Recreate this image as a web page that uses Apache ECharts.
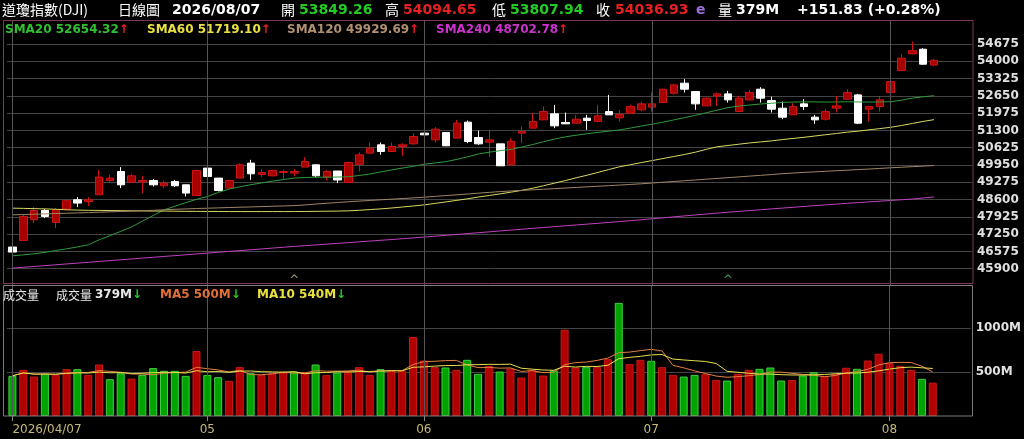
<!DOCTYPE html>
<html>
<head>
<meta charset="utf-8">
<script src="https://cdn.jsdelivr.net/npm/echarts@6/dist/echarts.min.js"></script>
<style>
html, body { margin: 0; padding: 0; background: #000; }
#chart { width: 1024px; height: 439px; }
</style>
</head>
<body>
<div id="chart"></div>
<script>
// 交易日 (2026/04/07 ~ 2026/08/07)
var monthNames = ['04', '05', '06', '07', '08'];
var tradingDays = [
    [7, 8, 9, 10, 13, 14, 15, 16, 17, 20, 21, 22, 23, 24, 27, 28, 29, 30],
    [1, 4, 5, 6, 7, 8, 11, 12, 13, 14, 15, 18, 19, 20, 21, 22, 26, 27, 28, 29],
    [1, 2, 3, 4, 5, 8, 9, 10, 11, 12, 15, 16, 17, 18, 22, 23, 24, 25, 26, 29, 30],
    [1, 2, 6, 7, 8, 9, 10, 13, 14, 15, 16, 17, 20, 21, 22, 23, 24, 27, 28, 29, 30, 31],
    [3, 4, 5, 6, 7]
];

// K線 [開, 收, 低, 高]
var candles = [
    [46746, 46551, 46185, 46746], [47004, 47940, 47004, 48006], [47811, 48174, 47682, 48306],
    [48174, 47940, 47877, 48228], [47706, 48201, 47487, 48267], [48228, 48552, 48174, 48591],
    [48591, 48462, 48306, 48696], [48525, 48591, 48357, 48696], [48786, 49476, 48786, 49761],
    [49344, 49437, 49242, 49566], [49695, 49176, 49047, 49866], [49281, 49527, 49281, 49605],
    [49293, 49344, 48852, 49527], [49344, 49176, 49110, 49398], [49137, 49242, 49047, 49344],
    [49305, 49137, 49086, 49371], [49176, 48852, 48720, 49176], [48759, 49734, 48759, 49761],
    [49827, 49500, 49500, 50022], [49437, 48954, 48915, 49437], [49047, 49344, 49047, 49371],
    [49437, 49956, 49437, 50022], [50022, 49605, 49371, 50151], [49578, 49656, 49476, 49788],
    [49527, 49734, 49500, 49761], [49656, 49695, 49371, 49761], [49632, 49695, 49500, 49788],
    [49866, 50085, 49866, 50256], [49956, 49527, 49476, 49956], [49476, 49695, 49344, 49761],
    [49714, 49363, 49242, 49714], [49266, 50046, 49242, 50073], [49975, 50346, 49695, 50436],
    [50412, 50607, 50412, 50826], [50736, 50475, 50346, 50826], [50475, 50670, 50475, 50826],
    [50670, 50736, 50307, 50802], [50775, 51060, 50736, 51192], [51192, 51126, 50775, 51192],
    [50931, 51348, 50826, 51426], [51216, 50697, 50697, 51216], [50997, 51582, 50997, 51711],
    [51621, 50865, 50802, 51684], [51021, 50775, 50736, 51294], [50841, 50931, 50268, 51321],
    [50775, 49917, 49917, 50775], [49956, 50871, 49956, 50997], [51192, 51255, 50802, 51450],
    [51387, 51645, 51387, 51972], [51711, 52035, 51711, 52230], [51945, 51477, 51387, 52296],
    [51606, 51555, 51555, 51996], [51582, 51738, 51582, 51906], [51777, 51684, 51321, 51906],
    [51645, 51867, 51645, 52296], [52035, 51906, 51906, 52686], [51789, 51925, 51645, 52101],
    [51972, 52230, 51972, 52296], [52101, 52335, 52035, 52425], [52206, 52335, 52035, 52776],
    [52386, 52908, 52386, 52908], [52752, 53076, 52686, 53115], [53142, 52908, 52776, 53298],
    [52815, 52335, 52101, 52815], [52257, 52557, 52257, 52581], [52647, 52725, 52257, 52776],
    [52725, 52491, 52386, 52842], [52035, 52557, 52035, 52647], [52491, 52776, 52464, 52881],
    [52908, 52557, 52386, 52986], [52464, 52128, 51996, 52620], [52167, 51816, 51738, 52425],
    [51906, 52230, 51906, 52362], [52335, 52230, 52101, 52518], [51816, 51711, 51555, 51906],
    [51738, 52035, 51684, 52128], [52167, 52257, 51996, 52647], [52518, 52776, 52491, 52908],
    [52686, 51582, 51543, 52725], [52128, 52230, 51645, 52257], [52230, 52491, 52035, 52647],
    [52776, 53205, 52776, 53271], [53634, 54117, 53634, 54285], [54285, 54414, 54285, 54765],
    [54468, 53885.10, 53856, 54507], [53849.26, 54036.93, 53807.94, 54094.65]
];

// 成交量 (M)
var volumes = [
    456, 524, 448, 479, 464, 532, 532, 467, 585, 418, 486, 425, 467, 544, 513, 513, 456, 738, 467, 441,
    399, 555, 486, 464, 486, 494, 505, 498, 585, 464, 494, 513, 555, 467, 532, 513, 513, 897, 630, 555,
    551, 524, 638, 479, 570, 505, 539, 437, 524, 460, 517, 980, 551, 555, 555, 646, 1285, 589, 638, 627,
    555, 467, 448, 467, 475, 410, 403, 479, 524, 536, 551, 403, 410, 460, 498, 456, 479, 548, 536, 630,
    707, 605, 570, 524, 422, 379
];
// 1 = 紅 (漲), 0 = 綠 (跌)
var volDir = [
    0, 1, 1, 0, 1, 1, 0, 1, 1, 0, 0, 1, 0, 0, 0, 0, 0, 1, 0, 0,
    1, 1, 0, 1, 1, 1, 0, 1, 0, 1, 0, 1, 1, 1, 0, 1, 1, 1, 1, 1,
    0, 1, 0, 0, 1, 0, 1, 1, 1, 1, 0, 1, 1, 0, 1, 1, 0, 1, 1, 0,
    1, 1, 0, 0, 1, 1, 0, 1, 1, 0, 0, 0, 1, 0, 0, 1, 1, 1, 0, 1,
    1, 1, 1, 1, 0, 1
];

var sma20 = [
    46403, 46440, 46481, 46540, 46610, 46676, 46750, 46832, 47030, 47190,
    47360, 47534, 47760, 47980, 48200, 48340, 48480, 48610, 48720, 48880,
    49010, 49100, 49180, 49250, 49320, 49380, 49440, 49460, 49470, 49475,
    49480, 49490, 49540, 49600, 49680, 49760, 49830, 49900, 49980, 50030,
    50080, 50170, 50270, 50380, 50450, 50510, 50560, 50650, 50750, 50860,
    50960, 51050, 51110, 51170, 51220, 51270, 51320, 51390, 51470, 51540,
    51620, 51710, 51800, 51890, 51990, 52090, 52190, 52250, 52290, 52330,
    52360, 52390, 52405, 52415, 52410, 52405, 52410, 52415, 52410, 52405,
    52410, 52420, 52480, 52560, 52610, 52654.32
];
var sma60 = [
    48264, 48255, 48245, 48235, 48220, 48200, 48190, 48180, 48175, 48170,
    48165, 48160, 48155, 48150, 48150, 48145, 48140, 48140, 48135, 48135,
    48130, 48130, 48130, 48130, 48130, 48130, 48131, 48135, 48140, 48145,
    48150, 48159, 48180, 48210, 48237, 48270, 48310, 48350, 48393, 48450,
    48510, 48570, 48630, 48700, 48760, 48822, 48890, 48960, 49044, 49140,
    49240, 49340, 49450, 49550, 49660, 49770, 49880, 49960, 50043, 50120,
    50200, 50280, 50360, 50450, 50560, 50660, 50710, 50760, 50810, 50850,
    50890, 50940, 50985, 51030, 51080, 51130, 51180, 51230, 51270, 51320,
    51370, 51420, 51490, 51570, 51650, 51719.10
];
var sma120 = [
    48003, 48015, 48027, 48040, 48052, 48065, 48078, 48090, 48105, 48120,
    48135, 48150, 48165, 48180, 48200, 48220, 48235, 48250, 48262, 48275,
    48288, 48300, 48312, 48325, 48338, 48350, 48363, 48390, 48425, 48455,
    48485, 48515, 48540, 48565, 48590, 48615, 48640, 48665, 48693, 48725,
    48755, 48785, 48815, 48850, 48880, 48912, 48935, 48958, 48980, 49003,
    49026, 49050, 49073, 49096, 49119, 49142, 49165, 49190, 49215, 49245,
    49275, 49305, 49335, 49365, 49395, 49425, 49455, 49485, 49515, 49545,
    49575, 49610, 49635, 49660, 49680, 49705, 49725, 49745, 49770, 49790,
    49815, 49840, 49860, 49885, 49905, 49929.69
];
var sma240 = [
    45923, 45955, 45988, 46020, 46053, 46086, 46118, 46150, 46183, 46216,
    46248, 46281, 46314, 46346, 46379, 46411, 46444, 46477, 46509, 46542,
    46575, 46607, 46640, 46672, 46705, 46738, 46770, 46800, 46830, 46860,
    46890, 46920, 46950, 46980, 47010, 47040, 47072, 47104, 47136, 47170,
    47204, 47238, 47272, 47306, 47340, 47374, 47408, 47442, 47476, 47509,
    47542, 47575, 47608, 47640, 47673, 47706, 47740, 47775, 47810, 47848,
    47886, 47924, 47962, 48000, 48035, 48070, 48105, 48138, 48170, 48202,
    48234, 48266, 48298, 48330, 48362, 48392, 48422, 48452, 48480, 48508,
    48536, 48564, 48592, 48620, 48660, 48702.78
];

// 底部 ^ 標記 (K線序號, 顏色)
var caretIdx = [26, 66];
var caretColor = ['#a89878', '#4ea05a'];

// 類別軸: 日期 + 右側留白
var categories = [];
var monthStart = [];
tradingDays.forEach(function (days, m) {
    monthStart.push(categories.length);
    days.forEach(function (d) {
        categories.push('2026/' + monthNames[m] + '/' + (d < 10 ? '0' + d : d));
    });
});
var padSlots = 3;
for (var p = 1; p <= padSlots; p++) {
    categories.push(new Array(p + 1).join(' '));
}

function movingAvg(arr, n) {
    return arr.map(function (v, i) {
        var s = arr.slice(Math.max(0, i - n + 1), i + 1);
        return s.reduce(function (a, b) { return a + b; }, 0) / s.length;
    });
}
var volMa5 = movingAvg(volumes, 5);
var volMa10 = movingAvg(volumes, 10);

var last = candles.length - 1;
var lastK = candles[last];
var prevClose = candles[last - 1][1];
var change = lastK[1] - prevClose;

var UP = '#e82020', DOWN = '#22cc22';
var numFont = 'bold 14px "DejaVu Sans"';
var cjkFont = '14px "Noto Sans CJK TC"';
var smallBold = 'bold 12px "DejaVu Sans"';
var smallCjk = '12px "Noto Sans CJK TC"';

function txt(x, y, text, fill, font) {
    return {
        type: 'text', x: x, y: y, silent: true, z: 200,
        style: { text: text, fill: fill, font: font, verticalAlign: 'middle', textVerticalAlign: 'middle' }
    };
}
function arrowOf(arr) {
    return arr[arr.length - 1] >= arr[arr.length - 2] ? '↑' : '↓';
}
function legendItem(x, y, label, value, color, arr) {
    var a = arrowOf(arr);
    return {
        type: 'text', x: x, y: y, silent: true, z: 200,
        style: {
            text: '{t|' + (label ? label + ' ' : '') + value + '}{a|' + a + '}',
            verticalAlign: 'middle', textVerticalAlign: 'middle',
            rich: {
                t: { fill: color, font: smallBold },
                a: { fill: a === '↑' ? UP : DOWN, font: smallBold }
            }
        }
    };
}
function colorVsPrev(v) { return v >= prevClose ? UP : DOWN; }

var monthLines = {
    silent: true,
    symbol: ['none', 'none'],
    label: { show: false },
    lineStyle: { color: '#555', type: 'solid', width: 1 },
    data: monthStart.map(function (i) { return { xAxis: categories[i] }; }),
    animation: false
};

var chart = echarts.init(document.getElementById('chart'));

var option = {
    backgroundColor: '#000',
    animation: false,
    grid: [
        { left: 7, right: 52, top: 21, height: 265 },
        { left: 7, right: 52, top: 285, height: 131 }
    ],
    xAxis: [
        {
            type: 'category', gridIndex: 0, data: categories, boundaryGap: true,
            axisLine: { show: false }, axisTick: { show: false },
            axisLabel: { show: false }, splitLine: { show: false }
        },
        {
            type: 'category', gridIndex: 1, data: categories, boundaryGap: true,
            axisLine: { show: false },
            axisTick: {
                show: true, alignWithLabel: true, length: 5,
                lineStyle: { color: '#888' },
                interval: function (idx) { return monthStart.indexOf(idx) >= 0; }
            },
            axisLabel: {
                color: '#c8b878', fontSize: 12, fontFamily: 'DejaVu Sans', margin: 8,
                alignMinLabel: 'left',
                interval: function (idx) { return monthStart.indexOf(idx) >= 0; },
                formatter: function (val, idx) {
                    return idx === 0 ? val : val.slice(5, 7);
                }
            },
            splitLine: { show: false }
        }
    ],
    yAxis: [
        {
            type: 'value', gridIndex: 0, position: 'right', scale: true,
            min: 45225, max: 55570, interval: 675,
            axisLine: { show: false }, axisTick: { show: false },
            axisLabel: {
                color: '#e0e0e0', fontWeight: 'bold', fontSize: 12,
                fontFamily: 'DejaVu Sans', margin: 5,
                showMinLabel: false, showMaxLabel: false,
                formatter: function (v) { return (v >= 45900 && v <= 54675) ? String(v) : ''; }
            },
            splitLine: {
                lineStyle: {
                    width: 1,
                    color: ['rgba(0,0,0,0)', '#444', '#444', '#444', '#444', '#444', '#444', '#444',
                        '#444', '#444', '#444', '#444', '#444', '#444', '#444',
                        'rgba(0,0,0,0)', 'rgba(0,0,0,0)']
                }
            }
        },
        {
            type: 'value', gridIndex: 1, position: 'right',
            min: 0, max: 1488, interval: 500,
            axisLine: { show: false }, axisTick: { show: false },
            axisLabel: {
                color: '#e0e0e0', fontWeight: 'bold', fontSize: 12, fontFamily: 'DejaVu Sans', margin: 5,
                showMinLabel: false, showMaxLabel: false,
                formatter: function (v) { return (v === 500 || v === 1000) ? v + 'M' : ''; }
            },
            splitLine: {
                lineStyle: { width: 1, color: ['rgba(0,0,0,0)', '#444', '#444', 'rgba(0,0,0,0)'] }
            }
        }
    ],
    series: [
        {
            type: 'candlestick', xAxisIndex: 0, yAxisIndex: 0,
            data: candles,
            barWidth: '74%',
            itemStyle: {
                color: '#a60000', color0: '#ffffff',
                borderColor: '#d01414', borderColor0: '#ffffff', borderWidth: 1
            },
            markLine: monthLines,
            markPoint: {
                silent: true,
                animation: false,
                data: caretIdx.map(function (i, k) {
                    return {
                        coord: [categories[i], 45430],
                        symbol: 'circle',
                        symbolSize: 2,
                        itemStyle: { color: 'rgba(0,0,0,0)' },
                        label: {
                            show: true, position: 'inside', formatter: '^', color: caretColor[k],
                            fontSize: 12, fontFamily: 'DejaVu Sans'
                        }
                    };
                })
            }
        },
        {
            type: 'line', name: 'SMA20', data: sma20, showSymbol: false, symbol: 'none',
            lineStyle: { color: '#2f9a3a', width: 1 }
        },
        {
            type: 'line', name: 'SMA60', data: sma60, showSymbol: false, symbol: 'none',
            lineStyle: { color: '#d8d860', width: 1 }
        },
        {
            type: 'line', name: 'SMA120', data: sma120, showSymbol: false, symbol: 'none',
            lineStyle: { color: '#a08466', width: 1 }
        },
        {
            type: 'line', name: 'SMA240', data: sma240, showSymbol: false, symbol: 'none',
            lineStyle: { color: '#c040c0', width: 1 }
        },
        {
            type: 'bar', xAxisIndex: 1, yAxisIndex: 1,
            barWidth: '74%',
            data: volumes.map(function (v, i) {
                var up = volDir[i] === 1;
                return {
                    value: v,
                    itemStyle: {
                        color: up ? '#b00000' : '#00a400',
                        borderColor: up ? '#c81818' : '#44cc44',
                        borderWidth: 1
                    }
                };
            }),
            markLine: monthLines
        },
        {
            type: 'line', xAxisIndex: 1, yAxisIndex: 1, data: volMa5,
            showSymbol: false, symbol: 'none', lineStyle: { color: '#e08040', width: 1 }
        },
        {
            type: 'line', xAxisIndex: 1, yAxisIndex: 1, data: volMa10,
            showSymbol: false, symbol: 'none', lineStyle: { color: '#e8e050', width: 1 }
        }
    ],
    graphic: [
        // 面板外框
        {
            type: 'rect', silent: true, z: 150,
            shape: { x: 3.5, y: 20.5, width: 969.5, height: 263 },
            style: { fill: null, stroke: '#7a3a5c', lineWidth: 1 }
        },
        {
            type: 'rect', silent: true, z: 150,
            shape: { x: 3.5, y: 285.5, width: 969, height: 130.5 },
            style: { fill: null, stroke: '#7c7c7c', lineWidth: 1 }
        },
        // 標題列
        txt(2, 10, '道瓊指數(DJI)', '#ffffff', cjkFont),
        txt(118, 10, '日線圖', '#ffffff', cjkFont),
        txt(172, 10, categories[last], '#ffffff', numFont),
        txt(281, 10, '開', '#ffffff', cjkFont),
        txt(299, 10, lastK[0].toFixed(2), colorVsPrev(lastK[0]), numFont),
        txt(385, 10, '高', '#ffffff', cjkFont),
        txt(403, 10, lastK[3].toFixed(2), colorVsPrev(lastK[3]), numFont),
        txt(492, 10, '低', '#ffffff', cjkFont),
        txt(510, 10, lastK[2].toFixed(2), colorVsPrev(lastK[2]), numFont),
        txt(596, 10, '收', '#ffffff', cjkFont),
        txt(615, 10, lastK[1].toFixed(2), colorVsPrev(lastK[1]), numFont),
        txt(696, 10, 'e', '#9a70d8', numFont),
        txt(718, 10, '量', '#ffffff', cjkFont),
        txt(736, 10, volumes[last] + 'M', '#ffffff', numFont),
        txt(797, 10, (change >= 0 ? '+' : '') + change.toFixed(2) + ' (' + (change >= 0 ? '+' : '') +
            (change / prevClose * 100).toFixed(2) + '%)', '#ffffff', numFont),
        // 均線圖例
        legendItem(5, 30, 'SMA20', sma20[last].toFixed(2), '#30c030', sma20),
        legendItem(147, 30, 'SMA60', sma60[last].toFixed(2), '#e8e040', sma60),
        legendItem(287, 30, 'SMA120', sma120[last].toFixed(2), '#b09070', sma120),
        legendItem(436, 30, 'SMA240', sma240[last].toFixed(2), '#cc33cc', sma240),
        // 成交量圖例
        txt(3, 295, '成交量', '#e8e8e8', smallCjk),
        txt(56, 295, '成交量', '#e8e8e8', smallCjk),
        legendItem(95, 295, '', volumes[last] + 'M', '#e8e8e8', volumes),
        legendItem(160, 295, 'MA5', Math.round(volMa5[last]) + 'M', '#e07038', volMa5),
        legendItem(257, 295, 'MA10', Math.round(volMa10[last]) + 'M', '#e8e040', volMa10)
    ]
};

chart.setOption(option);
</script>
</body>
</html>
